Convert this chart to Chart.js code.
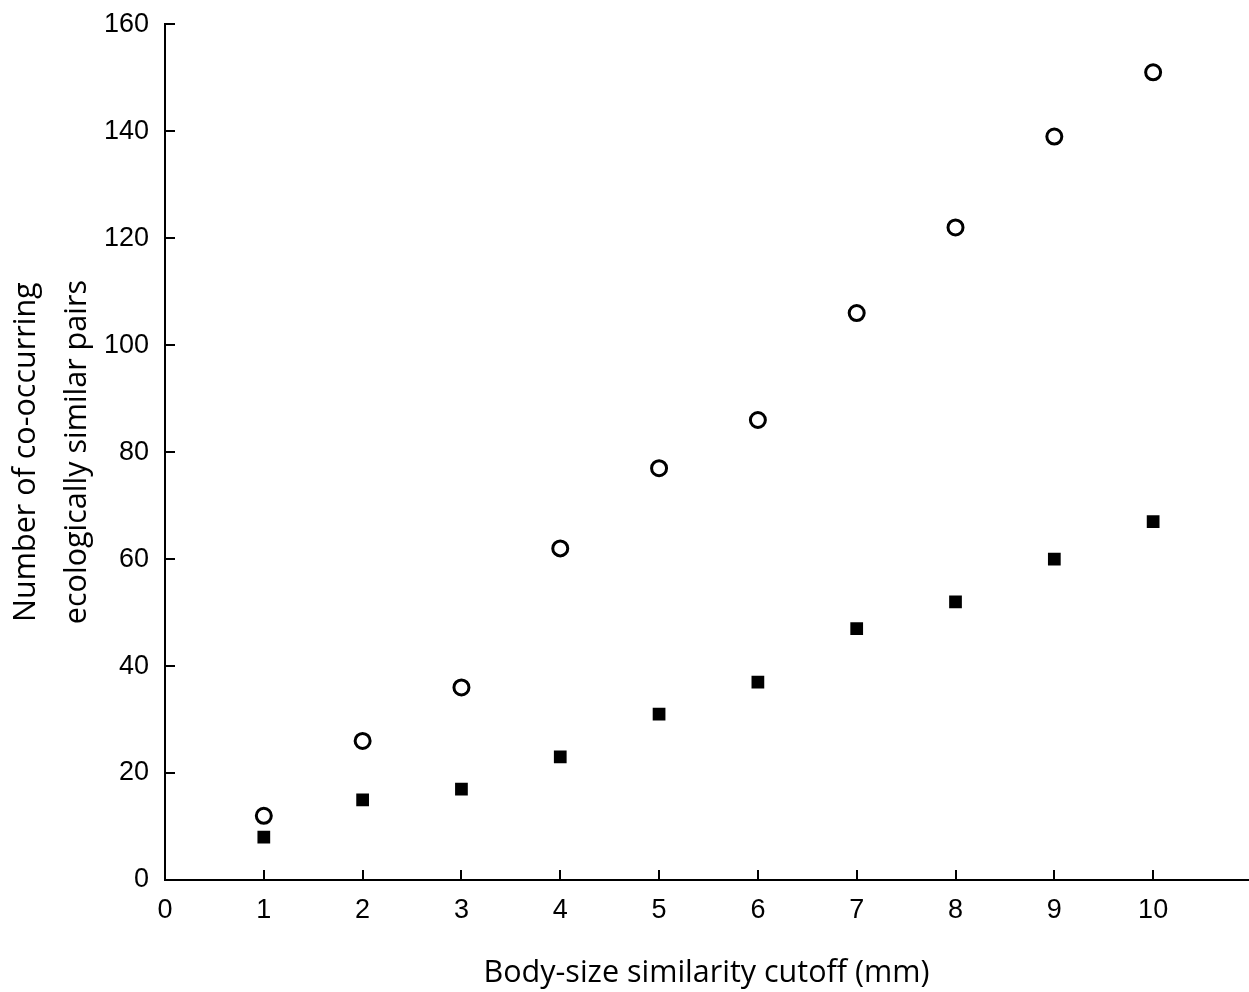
<!DOCTYPE html>
<html>
<head>
<meta charset="utf-8">
<script src="https://cdn.jsdelivr.net/npm/chart.js@4"></script>
<style>
  html, body { margin: 0; padding: 0; background: #fff; overflow: hidden; }
  #wrap { width: 1249px; height: 992px; }
  canvas { display: block; }
</style>
</head>
<body>
<div id="wrap"><canvas id="c" width="1249" height="992"></canvas></div>
<script>
// データ
const cutoffs = [1, 2, 3, 4, 5, 6, 7, 8, 9, 10];
const openCircles = [12, 26, 36, 62, 77, 86, 106, 122, 139, 151];
const filledSquares = [8, 15, 17, 23, 31, 37, 47, 52, 60, 67];
const xTicks = [0, 1, 2, 3, 4, 5, 6, 7, 8, 9, 10];
const yTicks = [0, 20, 40, 60, 80, 100, 120, 140, 160];
const xTitle = 'Body-size similarity cutoff (mm)';
const yTitle = ['Number of co-occurring', 'ecologically similar pairs'];

const toPts = arr => cutoffs.map((x, i) => ({ x, y: arr[i] }));

// 内向きの目盛り線
const innerTicks = {
  id: 'innerTicks',
  afterDraw(chart) {
    const { ctx, scales: { x, y } } = chart;
    ctx.save();
    ctx.strokeStyle = '#000';
    ctx.lineWidth = 2;
    ctx.beginPath();
    xTicks.forEach(v => {
      if (v === 0) return;
      const px = Math.round(x.getPixelForValue(v));
      ctx.moveTo(px, y.bottom);
      ctx.lineTo(px, y.bottom - 10);
    });
    yTicks.forEach(v => {
      if (v === 0) return;
      const py = Math.round(y.getPixelForValue(v));
      ctx.moveTo(x.left, py);
      ctx.lineTo(x.left + 10, py);
    });
    ctx.stroke();
    ctx.restore();
  }
};

new Chart(document.getElementById('c'), {
  type: 'scatter',
  data: {
    datasets: [
      {
        label: 'open',
        data: toPts(openCircles),
        pointStyle: 'circle',
        pointRadius: 7.5,
        pointBorderWidth: 3,
        pointBorderColor: '#000',
        pointBackgroundColor: '#fff'
      },
      {
        label: 'filled',
        data: toPts(filledSquares),
        pointStyle: 'rect',
        pointRadius: 9,
        pointBorderWidth: 0,
        pointBackgroundColor: '#000',
        pointBorderColor: '#000'
      }
    ]
  },
  options: {
    responsive: false,
    animation: false,
    devicePixelRatio: 1,
    layout: { autoPadding: false, padding: { top: 23, right: 1, left: 0, bottom: 0 } },
    plugins: { legend: { display: false }, tooltip: { enabled: false } },
    scales: {
      x: {
        type: 'linear',
        min: 0,
        max: 10.96,
        afterBuildTicks: s => { s.ticks = xTicks.map(v => ({ value: v })); },
        afterFit: s => { s.height = 112; s.paddingRight = 0; },
        grid: { display: false },
        border: { display: true, color: '#000', width: 2 },
        ticks: {
          color: '#000',
          padding: 6,
          maxRotation: 0,
          autoSkip: false,
          font: { family: 'Liberation Sans, Arial, sans-serif', size: 27 }
        },
        title: {
          display: true,
          text: xTitle,
          color: '#000',
          padding: { top: 27, bottom: 0 },
          font: { family: 'Open Sans, sans-serif', size: 30.5 }
        }
      },
      y: {
        type: 'linear',
        min: 0,
        max: 160,
        afterBuildTicks: s => { s.ticks = yTicks.map(v => ({ value: v })); },
        afterFit: s => { s.width = 165; },
        grid: { display: false },
        border: { display: true, color: '#000', width: 2 },
        ticks: {
          color: '#000',
          padding: 8,
          autoSkip: false,
          font: { family: 'Liberation Sans, Arial, sans-serif', size: 27 }
        },
        title: {
          display: true,
          text: yTitle,
          color: '#000',
          padding: { top: 0, bottom: 5 },
          font: { family: 'Open Sans, sans-serif', size: 30.5, lineHeight: 1.7 }
        }
      }
    }
  },
  plugins: [innerTicks]
});
</script>
</body>
</html>
